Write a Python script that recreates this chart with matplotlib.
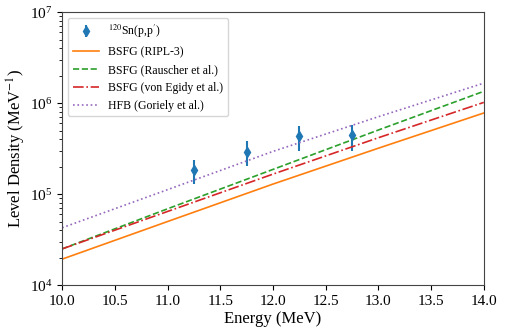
import matplotlib
matplotlib.use("Agg")
import matplotlib.pyplot as plt
import numpy as np

plt.rcParams['font.family'] = ['Liberation Serif', 'DejaVu Serif']
plt.rcParams['mathtext.fontset'] = 'stix'

energy_grid = [10.0, 11.0, 12.0, 13.0, 14.0]
bsfg_ripl3 = [1.93e4, 5.0e4, 1.29e5, 3.2e5, 7.8e5]
bsfg_rauscher = [2.5e4, 6.9e4, 1.87e5, 5.07e5, 1.35e6]
bsfg_vonegidy = [2.5e4, 6.45e4, 1.66e5, 4.17e5, 1.02e6]
hfb_goriely = [4.27e4, 1.12e5, 2.95e5, 7.1e5, 1.66e6]

exp_energy = [11.25, 11.75, 12.25, 12.75]
exp_rho = [1.83e5, 2.92e5, 4.34e5, 4.45e5]
exp_upper = [2.35e5, 3.8e5, 5.58e5, 5.7e5]
exp_lower = [1.28e5, 2.04e5, 2.99e5, 3.0e5]

fig, ax = plt.subplots(figsize=(5.05, 3.3), dpi=100)
fig.subplots_adjust(left=0.123, right=0.958, top=0.963, bottom=0.136)

yerr = [np.array(exp_rho) - np.array(exp_lower), np.array(exp_upper) - np.array(exp_rho)]
eb = ax.errorbar(exp_energy, exp_rho, yerr=yerr, fmt='d', color='tab:blue', ms=5,
                 elinewidth=1.5, capsize=0, label=r"$^{120}$Sn(p,p$'$)")
l1, = ax.plot(energy_grid, bsfg_ripl3, '-', color='tab:orange', lw=1.2, label='BSFG (RIPL-3)')
l2, = ax.plot(energy_grid, bsfg_rauscher, '--', color='tab:green', lw=1.2, label='BSFG (Rauscher et al.)')
l3, = ax.plot(energy_grid, bsfg_vonegidy, '-.', color='tab:red', lw=1.2, label='BSFG (von Egidy et al.)')
l4, = ax.plot(energy_grid, hfb_goriely, ':', color='tab:purple', lw=1.2, label='HFB (Goriely et al.)')

ax.set_yscale('log')
ax.set_xlim(10, 14)
ax.set_ylim(1e4, 1e7)
ax.set_xticks(np.arange(10, 14.01, 0.5))
ax.set_xticklabels([f'{v:.1f}' for v in np.arange(10, 14.01, 0.5)])
ax.tick_params(labelsize=11)
ax.set_xlabel('Energy (MeV)', fontsize=12, labelpad=2)
ax.set_ylabel(r'Level Density (MeV$^{-1}$)', fontsize=12)
ax.yaxis.set_label_coords(-0.08, 0.5)
for s in ax.spines.values():
    s.set_color('#444444')
ax.legend(handles=[eb, l1, l2, l3, l4], loc='upper left', fontsize=8.5, framealpha=0.8,
          borderpad=0.4, handlelength=2.2)

fig.savefig('out.png', dpi=100)
